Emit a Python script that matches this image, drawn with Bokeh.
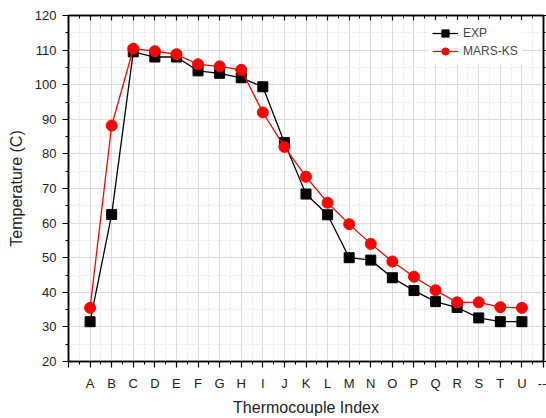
from bokeh.plotting import figure
from bokeh.models import (FixedTicker, LinearAxis, Range1d, Legend, LegendItem, Grid)
from bokeh.embed import file_html
from bokeh.resources import INLINE

categories = ["A", "B", "C", "D", "E", "F", "G", "H", "I", "J", "K",
              "L", "M", "N", "O", "P", "Q", "R", "S", "T", "U"]
exp_vals = [31.5, 62.5, 109.5, 108.0, 108.0, 104.0, 103.3, 102.0, 99.4, 83.3, 68.4,
            62.4, 50.0, 49.3, 44.2, 40.5, 37.3, 35.6, 32.6, 31.5, 31.5]
mars_vals = [35.5, 88.2, 110.4, 109.7, 108.8, 105.9, 105.3, 104.3, 92.0, 82.0, 73.4,
             65.9, 59.7, 54.0, 48.9, 44.5, 40.6, 37.1, 37.1, 35.7, 35.5]
y_ticks = [20, 30, 40, 50, 60, 70, 80, 90, 100, 110, 120]
end_label = "--"

xs = list(range(1, len(categories) + 1))
FONT = "Liberation Sans"
n = len(categories) + 1

p = figure(width=546, height=418, output_backend="svg", toolbar_location=None,
           x_range=Range1d(0, n), y_range=Range1d(20, 120),
           min_border_left=68, min_border_right=3, min_border_top=15, min_border_bottom=55)
p.xaxis.visible = False
p.yaxis.visible = False

major_x = list(range(0, n + 1))
minor_x = [i + 0.5 for i in range(0, n)]
xt = FixedTicker(ticks=major_x, minor_ticks=minor_x)
yt = FixedTicker(ticks=y_ticks, minor_ticks=[t + 5 for t in y_ticks[:-1]])

overrides = {i + 1: c for i, c in enumerate(categories)}
overrides[0] = ""
overrides[n] = end_label

xb = LinearAxis(ticker=xt, major_label_overrides=overrides,
                axis_label="Thermocouple Index")
yl = LinearAxis(ticker=yt, axis_label="Temperature (C)")
xa = LinearAxis(ticker=xt, major_label_overrides={t: "" for t in major_x},
                major_label_standoff=0)
yr = LinearAxis(ticker=yt, major_label_overrides={t: "" for t in y_ticks},
                major_label_standoff=0)

for ax in (xb, yl):
    ax.major_label_text_font = FONT
    ax.major_label_text_font_size = "13px"
    ax.major_label_text_color = "#222222"
    ax.axis_label_text_font = FONT
    ax.axis_label_text_font_size = "16px"
    ax.axis_label_text_font_style = "normal"
    ax.axis_label_text_color = "#222222"
    ax.major_tick_out = 6
    ax.major_tick_in = 0
    ax.minor_tick_out = 3
    ax.minor_tick_in = 0
xb.major_label_standoff = 8
xb.axis_label_standoff = 5
yl.major_label_standoff = 6
yl.axis_label_standoff = 7

xa.major_tick_in = 5
xa.major_tick_out = 0
xa.minor_tick_in = 3
xa.minor_tick_out = 0
yr.major_tick_out = 3
yr.major_tick_in = 0
yr.minor_tick_out = 2
yr.minor_tick_in = 0

for ax in (xb, yl, xa, yr):
    ax.axis_line_color = "black"
    ax.axis_line_width = 1.5
    ax.major_tick_line_color = "black"
    ax.minor_tick_line_color = "black"
    ax.major_tick_line_width = 1.2

p.add_layout(xb, "below")
p.add_layout(yl, "left")
p.add_layout(xa, "above")
p.add_layout(yr, "right")

p.xgrid.visible = False
p.ygrid.visible = False
gx = Grid(dimension=0, ticker=xt, grid_line_color="#dcdcdc", grid_line_width=1,
          minor_grid_line_color="#e6e6e6", minor_grid_line_dash="2 2")
gy = Grid(dimension=1, ticker=yt, grid_line_color="#dcdcdc", grid_line_width=1,
          minor_grid_line_color="#e6e6e6", minor_grid_line_dash="2 2")
p.add_layout(gx)
p.add_layout(gy)

p.outline_line_color = "black"
p.outline_line_width = 1.5

l1 = p.line(xs, exp_vals, line_color="black", line_width=1.3)
s1 = p.scatter(xs, exp_vals, marker="square", size=10, fill_color="black", line_color="black")
l2 = p.line(xs, mars_vals, line_color="red", line_width=1.3)
s2 = p.scatter(xs, mars_vals, marker="circle", size=11, fill_color="red", line_color="red")

legend = Legend(items=[LegendItem(label="EXP", renderers=[l1, s1]),
                       LegendItem(label="MARS-KS", renderers=[l2, s2])],
                location=(360, 297), border_line_alpha=0, background_fill_alpha=1,
                label_text_font=FONT, label_text_font_size="12px",
                glyph_width=26, glyph_height=18, label_height=18,
                spacing=0, padding=4, margin=0, label_standoff=5)
p.add_layout(legend)

open("out.html", "w").write(file_html(p, INLINE))
